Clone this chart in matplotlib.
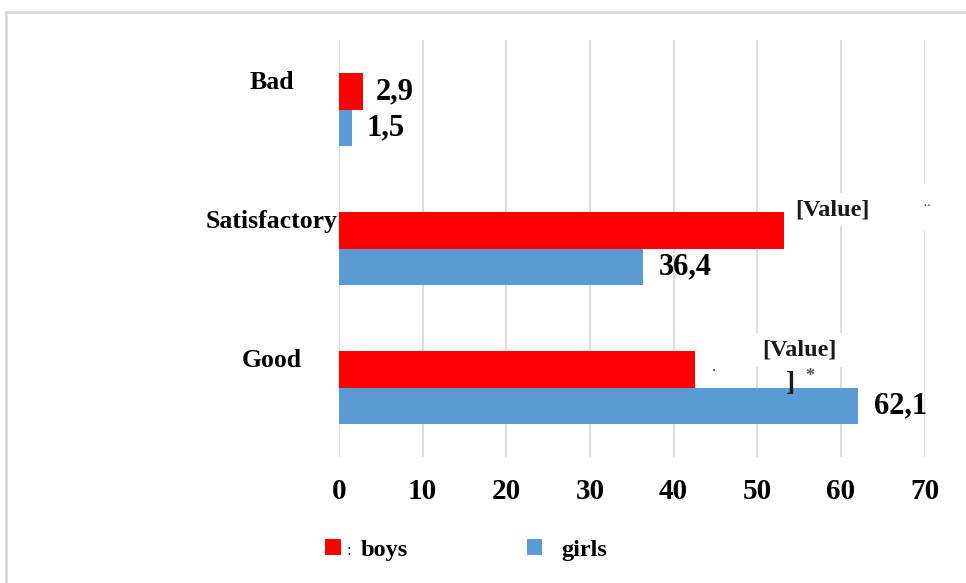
import matplotlib.pyplot as plt
from matplotlib.lines import Line2D

# Dados do gráfico
categorias = ['Bad', 'Satisfactory', 'Good']
boys = [2.9, 53.2, 42.6]
girls = [1.5, 36.4, 62.1]
rotulos_boys = ['2,9', '[Value]', '[Value]']
rotulos_girls = ['1,5', '36,4', '62,1']
ticks_x = [0, 10, 20, 30, 40, 50, 60, 70]

cor_boys = '#FF0000'
cor_girls = '#5B9BD5'
fonte = 'Liberation Serif'

fig = plt.figure(figsize=(9.66, 5.83), dpi=100)
ax = fig.add_axes([339 / 966, 1 - 457 / 583, (924.5 - 339) / 966, (457 - 40) / 583])

pos = list(range(len(categorias)))
altura = 0.26
b1 = ax.barh([p - altura / 2 for p in pos], boys, height=altura, color=cor_boys, label='boys')
b2 = ax.barh([p + altura / 2 for p in pos], girls, height=altura, color=cor_girls, label='girls')

ax.set_xlim(0, 70)
ax.set_ylim(2.5, -0.5)
ax.set_xticks(ticks_x)
ax.set_xticklabels([str(t) for t in ticks_x], fontfamily=fonte, fontweight='bold', fontsize=21)
ax.tick_params(axis='x', length=0, pad=15)
ax.set_yticks([])
ax.grid(axis='x', color='#d9d9d9', linewidth=1.3)
ax.set_axisbelow(True)
for lado in ['top', 'right', 'bottom', 'left']:
    ax.spines[lado].set_visible(False)

# Rótulos das categorias (ficam acima do centro)
for p, nome in zip(pos, categorias):
    ax.text(-0.115, p - 0.195, nome, transform=ax.get_yaxis_transform(), ha='center', va='center',
            fontfamily=fonte, fontweight='bold', fontsize=18.5)

# Rótulos de valor das meninas
for p, v, r in zip(pos, girls, rotulos_girls):
    ax.annotate(r, (v, p + altura / 2), xytext=(11, 0), textcoords='offset points',
                ha='left', va='center', fontfamily=fonte, fontweight='bold', fontsize=22)

# Rótulos de valor dos meninos
ax.annotate(rotulos_boys[0], (boys[0], pos[0] - altura / 2), xytext=(9, 0), textcoords='offset points',
            ha='left', va='center', fontfamily=fonte, fontweight='bold', fontsize=22)
caixa = dict(boxstyle='square,pad=0.25', facecolor='white', edgecolor='none')
ax.annotate(rotulos_boys[1], (boys[1], pos[1] - altura / 2), xytext=(8, 15), textcoords='offset points',
            ha='left', va='center', fontfamily=fonte, fontweight='bold', fontsize=17.5, color='#1a1a1a',
            bbox=caixa)
ax.annotate('··', (boys[1], pos[1] - altura / 2), xytext=(100, 17), textcoords='offset points',
            ha='left', va='center', fontfamily=fonte, fontsize=10, color='#333333',
            bbox=dict(boxstyle='square,pad=1.2', facecolor='white', edgecolor='none'))
ax.annotate(rotulos_boys[2], (boys[2], pos[2] - altura / 2), xytext=(48, 14), textcoords='offset points',
            ha='left', va='center', fontfamily=fonte, fontweight='bold', fontsize=17.5, color='#1a1a1a',
            bbox=caixa)
ax.annotate(']', (boys[2], pos[2] - altura / 2), xytext=(65, -10), textcoords='offset points',
            ha='left', va='center', fontfamily=fonte, fontweight='bold', fontsize=20, color='#1a1a1a')
ax.annotate('*', (boys[2], pos[2] - altura / 2), xytext=(79, -5), textcoords='offset points',
            ha='left', va='center', fontfamily=fonte, fontweight='bold', fontsize=13, color='#555555')
ax.annotate('.', (boys[2], pos[2] - altura / 2), xytext=(12, 2), textcoords='offset points',
            ha='left', va='center', fontfamily=fonte, fontsize=12, color='#333333')

# Legenda
leg = fig.legend(handles=[b1, b2], labels=['boys', 'girls'], loc='upper left',
                 bbox_to_anchor=(325 / 966, 1 - 539 / 583), ncol=2, frameon=False,
                 prop={'family': fonte, 'weight': 'bold', 'size': 17.5},
                 handlelength=0.65, handleheight=0.65, handletextpad=0.8, columnspacing=4.9,
                 borderpad=0, borderaxespad=0)
fig.text(349 / 966, 1 - 551 / 583, ':', fontfamily=fonte, fontsize=12, ha='center', va='center')

# Moldura cinza clara da figura
fig.add_artist(Line2D([6 / 966, 6 / 966], [0, 1 - 12 / 583], color='#d9d9d9', linewidth=2))
fig.add_artist(Line2D([6 / 966, 1], [1 - 12 / 583, 1 - 12 / 583], color='#d9d9d9', linewidth=2))

fig.savefig('out.png', dpi=100)
